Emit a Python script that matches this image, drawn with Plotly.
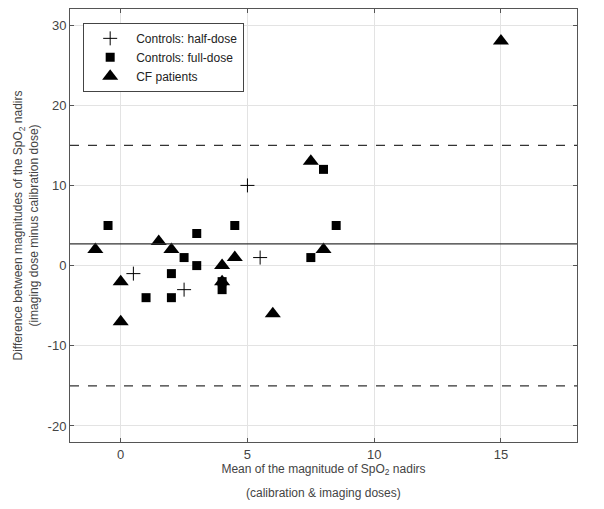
import plotly.graph_objects as go

# Controls: half-dose
half_x = [0.5, 2.5, 5, 5.5]
half_y = [-1, -3, 10, 1]

# Controls: full-dose
full_x = [-0.5, 1, 2, 2, 2.5, 3, 3, 4, 4, 4.5, 7.5, 8, 8.5]
full_y = [5, -4, -4, -1, 1, 0, 4, -3, -2, 5, 1, 12, 5]

# CF patients
cf_x = [-1, 0, 0, 1.5, 2, 4, 4, 4.5, 6, 7.5, 8, 15]
cf_y = [2, -2, -7, 3, 2, 0, -2, 1, -6, 13, 2, 28]

# mean difference and limits of agreement
mean_diff = 2.7
loa_upper = 15
loa_lower = -15

x_ticks = [0, 5, 10, 15]
x_ticklabels = ['0', '5', '10', '15']
y_ticks = [-20, -10, 0, 10, 20, 30]
y_ticklabels = ['-20', '-10', '0', '10', '20', '30']

FONT = "Liberation Sans, Arial, sans-serif"
GREY = "#444444"

fig = go.Figure()

fig.add_trace(go.Scatter(
    x=half_x, y=half_y, mode='markers', name='Controls: half-dose',
    marker=dict(symbol='cross-thin', size=10, color='black',
                line=dict(color='black', width=1))
))
fig.add_trace(go.Scatter(
    x=full_x, y=full_y, mode='markers', name='Controls: full-dose',
    marker=dict(symbol='square', size=9, color='black')
))
fig.add_trace(go.Scatter(
    x=cf_x, y=cf_y, mode='markers', name='CF patients',
    marker=dict(symbol='triangle-up', size=14, color='black')
))

fig.add_hline(y=mean_diff, line=dict(color='#333333', width=1.2))
fig.add_hline(y=loa_upper, line=dict(color='#333333', width=1.2, dash='dash'))
fig.add_hline(y=loa_lower, line=dict(color='#333333', width=1.2, dash='dash'))

axis_style = dict(
    showgrid=True, gridcolor='#e3e3e3', gridwidth=1,
    zeroline=False, showline=True, linecolor='#555555', linewidth=1,
    mirror='ticks', ticks='inside', ticklen=4, tickcolor='#555555',
    tickfont=dict(family=FONT, size=13, color=GREY),
    automargin=False,
)

# the page body adds an 8px offset, so the figure is a bit smaller
fig.update_layout(
    width=596, height=501,
    margin=dict(l=62, r=27, t=1, b=67),
    paper_bgcolor='white', plot_bgcolor='white',
    font=dict(family=FONT, color=GREY),
    xaxis=dict(range=[-2, 18], tickvals=x_ticks, ticktext=x_ticklabels,
               title=dict(text='Mean of the magnitude of SpO<sub>2</sub> nadirs',
                          font=dict(family=FONT, size=12, color=GREY), standoff=2),
               **axis_style),
    yaxis=dict(range=[-22, 32], tickvals=y_ticks, ticktext=y_ticklabels,
               title=dict(text='Difference between magnitudes of the SpO<sub>2</sub> nadirs<br>(imaging dose minus calibration dose)',
                          font=dict(family=FONT, size=12, color=GREY), standoff=6),
               **axis_style),
    legend=dict(x=0.026, y=0.968, xanchor='left', yanchor='top',
                bgcolor='white', bordercolor='#444444', borderwidth=1,
                font=dict(family=FONT, size=12, color='#222222'),
                tracegroupgap=0, itemwidth=42),
    showlegend=True,
    annotations=[dict(
        text='(calibration &amp; imaging doses)', xref='paper', yref='paper',
        x=0.5, y=0, yshift=-51, xanchor='center', yanchor='middle',
        showarrow=False, font=dict(family=FONT, size=12, color=GREY),
    )],
)

fig.write_html("out.html")
